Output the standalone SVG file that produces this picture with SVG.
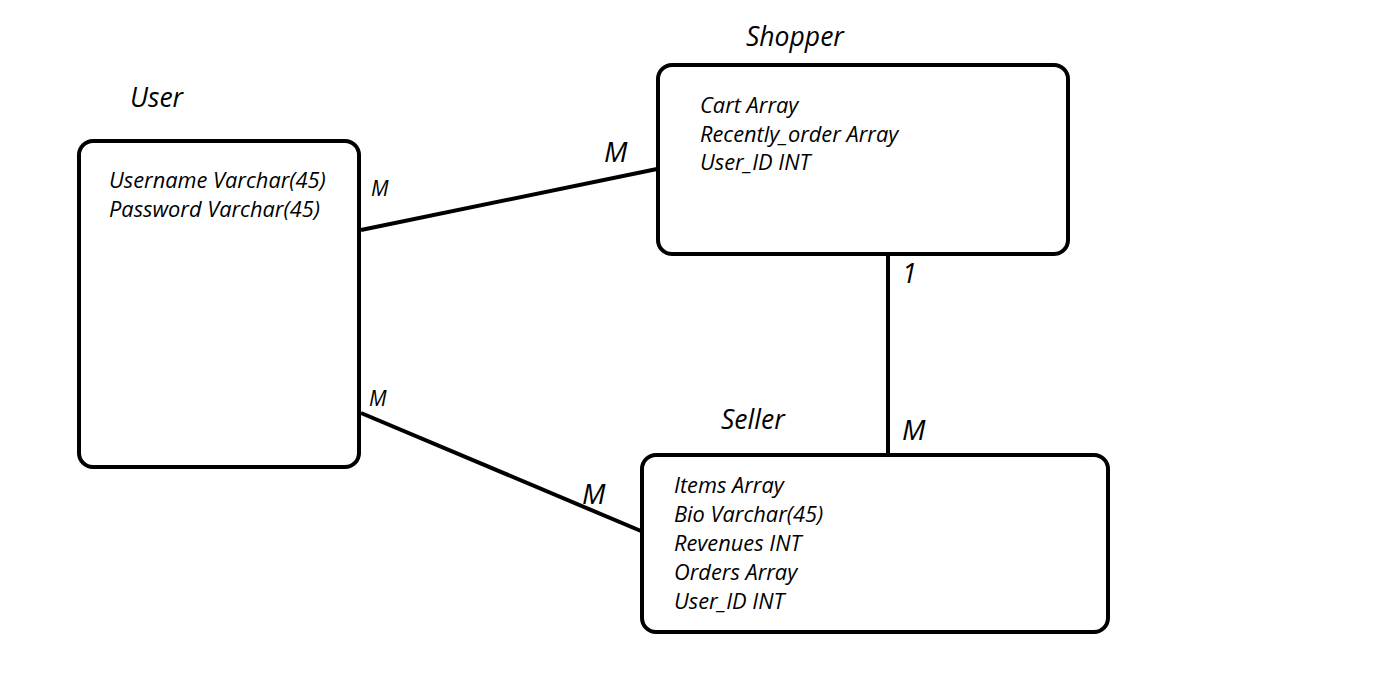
<svg xmlns="http://www.w3.org/2000/svg" width="1395" height="674" viewBox="0 0 1395 674">
<style>
.box{fill:#fff;stroke:#000;stroke-width:4}
.ln{stroke:#000;stroke-width:4;fill:none}
text{font-family:"Open Sans","Noto Sans",sans-serif;font-style:italic;fill:#000}
.t{font-size:26.5px}
.a{font-size:21.8px}
.s{font-size:21px}
.m{font-size:28px}
.o{font-size:27px}
</style>
<rect width="1395" height="674" fill="#fff"/>
<g id="connectors">
<line class="ln" x1="361" y1="230" x2="657" y2="169"/>
<line class="ln" x1="361" y1="413" x2="641" y2="531"/>
<line class="ln" x1="888" y1="255" x2="888" y2="457"/>
<text class="s" x="371" y="196">M</text>
<text class="m" x="604" y="162">M</text>
<text class="o" x="902" y="283">1</text>
<text class="m" x="902" y="440">M</text>
<text class="s" x="369" y="406">M</text>
<text class="m" x="582" y="504">M</text>
</g>
<g id="user">
<rect class="box" x="79" y="141" width="280" height="326" rx="14"/>
<text class="t" x="130" y="107">User</text>
<text class="a" x="109" y="188">Username Varchar(45)</text>
<text class="a" x="109" y="217">Password Varchar(45)</text>
</g>
<g id="shopper">
<rect class="box" x="658" y="65" width="410" height="189" rx="14"/>
<text class="t" x="746" y="46">Shopper</text>
<text class="a" x="700" y="113">Cart Array</text>
<text class="a" x="700" y="142">Recently_order Array</text>
<text class="a" x="700" y="170">User_ID INT</text>
</g>
<g id="seller">
<rect class="box" x="642" y="455" width="466" height="177" rx="14"/>
<text class="t" x="721" y="429">Seller</text>
<text class="a" x="674" y="493">Items Array</text>
<text class="a" x="674" y="522">Bio Varchar(45)</text>
<text class="a" x="674" y="551">Revenues INT</text>
<text class="a" x="674" y="580">Orders Array</text>
<text class="a" x="674" y="609">User_ID INT</text>
</g>
</svg>
